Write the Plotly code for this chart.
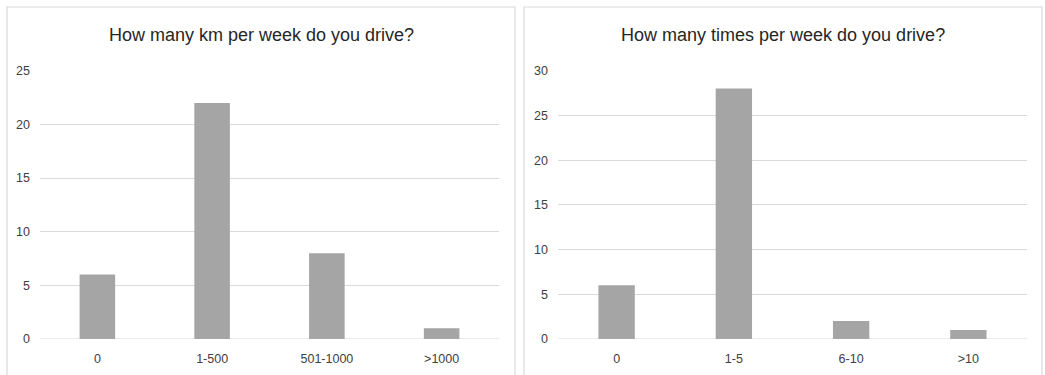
import plotly.graph_objects as go

# Survey answers
km_categories = ["0", "1-500", "501-1000", ">1000"]
km_counts = [6, 22, 8, 1]
km_title = "How many km per week do you drive?"

times_categories = ["0", "1-5", "6-10", ">10"]
times_counts = [6, 28, 2, 1]
times_title = "How many times per week do you drive?"

W, H = 1045, 375
FONT = "Liberation Sans, Arial, sans-serif"
BAR = "#a5a5a5"
GRID = "#d9d9d9"
TEXT = "#404040"


def px(x):
    return x / W


def py(y):
    return 1 - y / H


fig = go.Figure()
fig.add_trace(go.Bar(x=km_categories, y=km_counts, marker_color=BAR,
                     marker_line_width=0, xaxis="x", yaxis="y", width=0.31))
fig.add_trace(go.Bar(x=times_categories, y=times_counts, marker_color=BAR,
                     marker_line_width=0, xaxis="x2", yaxis="y2", width=0.31))

ydom = [py(339), py(70.7)]
axis_common = dict(showline=False, zeroline=False, automargin=False,
                   tickfont=dict(family=FONT, size=12.5, color=TEXT))

fig.update_layout(
    width=W, height=H, autosize=False,
    margin=dict(l=0, r=0, t=0, b=0, pad=0),
    paper_bgcolor="white", plot_bgcolor="white",
    showlegend=False,
    xaxis=dict(domain=[px(40), px(499)], anchor="y", showgrid=False,
               ticklabelstandoff=10, **axis_common),
    yaxis=dict(domain=ydom, anchor="x", range=[0, 25], dtick=5,
               showgrid=True, gridcolor=GRID, gridwidth=1,
               ticklabelstandoff=9, **axis_common),
    xaxis2=dict(domain=[px(558), px(1027)], anchor="y2", showgrid=False,
                ticklabelstandoff=10, **axis_common),
    yaxis2=dict(domain=ydom, anchor="x2", range=[0, 30], dtick=5,
                showgrid=True, gridcolor=GRID, gridwidth=1,
                ticklabelstandoff=9, **axis_common),
)

# zero baselines
for ya, x0, x1 in (("y", 40, 499), ("y2", 558, 1027)):
    fig.add_shape(type="line", xref="paper", yref=ya, x0=px(x0), x1=px(x1),
                  y0=0, y1=0, line=dict(color=GRID, width=1), layer="below")

# chart panel borders
for x0, x1 in ((7, 515), (524, 1042)):
    fig.add_shape(type="rect", xref="paper", yref="paper",
                  x0=px(x0), x1=px(x1), y0=py(400), y1=py(7),
                  line=dict(color=GRID, width=1.2), layer="below")

# chart titles
for text, cx in ((km_title, 261), (times_title, 783)):
    fig.add_annotation(text=text, xref="paper", yref="paper",
                       x=px(cx), y=py(35), showarrow=False,
                       xanchor="center", yanchor="middle",
                       font=dict(family=FONT, size=18, color="#262626"))

fig.write_html("out.html")
